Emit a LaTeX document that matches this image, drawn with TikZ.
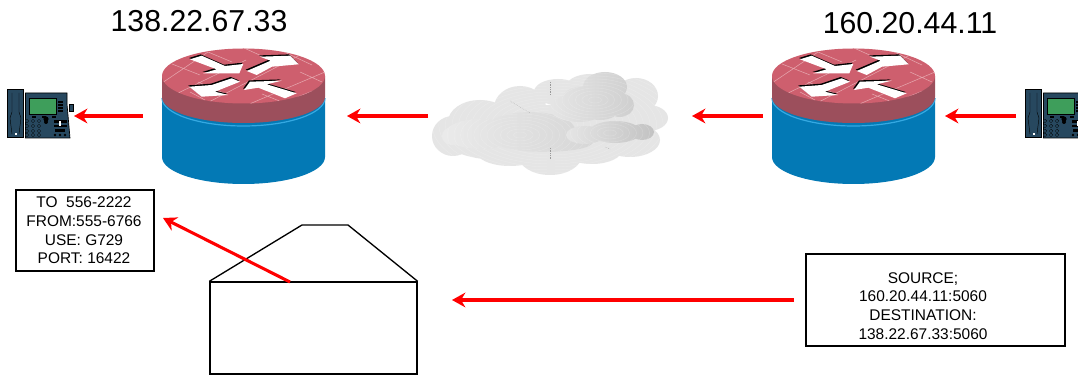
\documentclass[tikz,border=0pt]{standalone}
\usepackage{fontspec}
\setmainfont{Liberation Sans}
\usetikzlibrary{arrows.meta}
\definecolor{rtop}{HTML}{CE5F6E}
\definecolor{rband}{HTML}{9C4F5C}
\definecolor{rblue}{HTML}{0379B5}
\definecolor{rline}{HTML}{35A9E2}
\definecolor{rbrick}{HTML}{E6A6AE}
\definecolor{pnavy}{HTML}{27485F}
\definecolor{pgreen}{HTML}{3E9E5B}
\tikzset{
  x=0.75pt,y=-0.75pt,
  redarrow/.style={draw=red,line width=2.3pt,-{Stealth[length=10pt,width=11pt]}},
  infobox/.style={draw=black,line width=1pt,inner sep=0pt},
  infotext/.style={align=center,inner sep=0pt,font=\fontsize{11.6pt}{14pt}\selectfont},
  iplabel/.style={font=\fontsize{22.7pt}{26pt}\selectfont,inner sep=0pt},
  envline/.style={draw=black,line width=1pt,line join=miter},
  wharrow/.style={fill=white},
  shadowarrow/.style={fill=black},
  phonekey/.style={fill=pnavy,draw=black,line width=0.2pt},
}
\newcommand{\arrowshapes}[1]{%
  \fill[#1] (190,59.3) -- (201.7,55.7) -- (225,66) -- (243.3,64) -- (239.3,73.3) -- (203.3,73.3) -- (216.7,69.3) -- cycle;
  \fill[#1] (246.7,71) -- (270.7,60.7) -- (260,56.7) -- (290,55.7) -- (298.7,64.3) -- (272,66.7) -- (256.7,75) -- cycle;
  \fill[#1] (231.7,78.3) -- (240,81.7) -- (215,91.7) -- (228.3,95) -- (201.7,96.7) -- (189.3,86.7) -- (211.7,85) -- cycle;
  \fill[#1] (244,90) -- (250,81.7) -- (281.7,80.7) -- (266.7,84.3) -- (296.7,93.3) -- (285,98.3) -- (258.3,87.7) -- cycle;
}
\newcommand{\routerbody}{%
  \fill[rblue] (162,98) -- (162,157) arc[start angle=180,end angle=0,x radius=81.5,y radius=27] -- (325,98) -- cycle;
  \draw[rline,line width=0.9pt] (162,98) arc[start angle=180,end angle=0,x radius=81.5,y radius=28];
  \fill[rband] (162,76) -- (162,97) arc[start angle=180,end angle=0,x radius=81.5,y radius=26] -- (325,76) -- cycle;
  \fill[rtop] (243.5,76) ellipse[x radius=81.5,y radius=27.5];
  \begin{scope}
    \clip (243.5,76) ellipse[x radius=81.5,y radius=27.5];
    \draw[rbrick,line width=0.4pt]
      (162,83) -- (208,52) (172,96) -- (246,60) (205,104) -- (300,55) (240,108) -- (325,72) (270,108) -- (330,84)
      (172,64) -- (200,75) (208,52) -- (232,62) (244,48) -- (275,62) (280,50) -- (312,65)
      (198,82) -- (226,94) (300,72) -- (322,82) (262,94) -- (292,106) (190,92) -- (205,100);
  \end{scope}
  \begin{scope}[shift={(-1,-1.3)}]\arrowshapes{shadowarrow}\end{scope}
  \arrowshapes{wharrow}
}
\newcommand{\phoneshape}{%
  \fill[pnavy,draw=black,line width=0.5pt] (7.5,89.5) rectangle (23,137.5);
  \draw[black,line width=0.3pt] (12,93) -- (12,112) -- (10,118) -- (12,134) (19,93) -- (19,112) -- (21,118) -- (19,134);
  \fill[white] (14.5,133) rectangle (16.5,135);
  \fill[pnavy,draw=black,line width=0.5pt] (25.5,93) -- (67,93) -- (67,104) -- (70,138) -- (25.5,138) -- cycle;
  \fill[pnavy,draw=black,line width=0.4pt] (69.5,104) rectangle (73,111);
  \fill[pgreen,draw=black,line width=0.5pt] (29.5,98) rectangle (56,114);
  \foreach \yy in {101,104,107,110} {\fill[black] (58,\yy) rectangle (63,\yy+1.6);}
  \foreach \xx in {32,42,52} {\fill[black] (\xx,116) rectangle (\xx+4,118);}
  \foreach \xx in {27,33,39} \foreach \yy in {121,126,131,135} {\draw[phonekey] (\xx,\yy) circle[radius=1.8];}
  \fill[black] (46,119) circle[radius=2.6];
  \fill[black] (46,122) circle[radius=2];
  \fill[black] (54,120) rectangle (67,123.5);
  \fill[black] (54,125) rectangle (67,127.5);
  \fill[white] (59,121) rectangle (61,126);
  \fill[black] (55,129) rectangle (65,132);
  \foreach \xx in {55,60,65} {\fill[black] (\xx,135) circle[radius=1.4];}
}
\newcommand{\cloudrings}[2]{%
  \foreach \rr in {3,6,...,120} {\draw[white,opacity=0.22,line width=0.3pt] (#1,#2) ellipse[x radius=\rr*2.2,y radius=\rr];}
}
\begin{document}
\begin{tikzpicture}
\useasboundingbox (0,0) rectangle (1078,377);
\fill[white] (0,0) rectangle (1078,377);

% phones
\phoneshape
\begin{scope}
  \clip (0,0) rectangle (1078,377);
  \begin{scope}[shift={(1018,0)}]\phoneshape\end{scope}
\end{scope}

% routers
\routerbody
\begin{scope}[shift={(610,0)}]\routerbody\end{scope}

% cloud
\begin{scope}
  \clip (453,136) ellipse[x radius=21,y radius=20]
        (480,122) ellipse[x radius=32,y radius=22]
        (520,108) ellipse[x radius=26,y radius=22]
        (558,92) ellipse[x radius=24,y radius=13]
        (590,90) ellipse[x radius=26,y radius=16]
        (636,96) ellipse[x radius=22,y radius=18]
        (648,118) ellipse[x radius=20,y radius=13]
        (630,140) ellipse[x radius=30,y radius=17]
        (570,130) ellipse[x radius=80,y radius=26]
        (550,155) ellipse[x radius=32,y radius=20]
        (510,150) ellipse[x radius=35,y radius=16]
        (592,150) ellipse[x radius=30,y radius=14]
        (500,135) ellipse[x radius=60,y radius=25];
  \fill[black!10] (425,60) rectangle (675,180);
  \cloudrings{551}{125}
\end{scope}
\begin{scope}
  \clip (452,136) ellipse[x radius=10,y radius=9]
        (480,134) ellipse[x radius=35,y radius=15]
        (530,130) ellipse[x radius=45,y radius=18]
        (545,142) ellipse[x radius=48,y radius=10];
  \shade[left color=black!8,right color=black!16] (440,110) rectangle (595,155);
  \cloudrings{520}{135}
\end{scope}
\begin{scope}
  \clip (578,108) ellipse[x radius=28,y radius=14]
        (605,87) ellipse[x radius=22,y radius=15]
        (585,98) ellipse[x radius=22,y radius=12]
        (620,105) ellipse[x radius=14,y radius=12]
        (600,108) ellipse[x radius=20,y radius=12];
  \shade[left color=black!10,right color=black!19] (550,70) rectangle (636,122);
  \cloudrings{595}{100}
\end{scope}
\begin{scope}
  \clip (585,135) ellipse[x radius=19,y radius=9]
        (615,132) ellipse[x radius=26,y radius=11]
        (642,132) ellipse[x radius=12,y radius=8];
  \shade[left color=black!10,right color=black!24] (565,120) rectangle (656,146);
  \cloudrings{610}{133}
\end{scope}
\foreach \a/\b/\c/\d in {550.5/82/550.5/95, 510/101/530/113, 550.5/148/550.5/160, 605/147/610/149}
  {\draw[black!40,line width=0.3pt,densely dotted] (\a,\b) -- (\c,\d);}

% labels
\node[iplabel] (ipa) at (199,21) {138.22.67.33};
\node[iplabel] (ipb) at (910,23) {160.20.44.11};

% info boxes
\node[infobox,minimum width=103.5pt,minimum height=60.75pt] (toBox) at (85,230.5) {};
\node[infotext] (toText) at (84,230.5) {TO\ \ 556-2222\\FROM:555-6766\\USE: G729\\PORT: 16422};
\node[infobox,minimum width=194.25pt,minimum height=69pt] (srcBox) at (935.5,300) {};
\node[infotext] (srcText) at (923,306) {SOURCE;\\160.20.44.11:5060\\DESTINATION:\\138.22.67.33:5060};

% envelope
\node[draw=black,line width=1pt,minimum width=155.25pt,minimum height=69pt,inner sep=0pt] (env) at (313.5,328) {};
\coordinate (flapA) at (302,225);
\coordinate (flapB) at (348,225);
\draw[envline] (env.north west) -- (flapA) -- (flapB) -- (env.north east);

% arrow end points
\coordinate (a1s) at (143,116); \coordinate (a1e) at (74,116);
\coordinate (a2s) at (428,116); \coordinate (a2e) at (347,116);
\coordinate (a3s) at (763,116); \coordinate (a3e) at (692,116);
\coordinate (a4s) at (1016,116); \coordinate (a4e) at (945,116);
\coordinate (a5s) at (794,300); \coordinate (a5e) at (452,300);
\coordinate (a6s) at (290,282); \coordinate (a6e) at (163,218);
\draw[redarrow] (a1s) -- (a1e);
\draw[redarrow] (a2s) -- (a2e);
\draw[redarrow] (a3s) -- (a3e);
\draw[redarrow] (a4s) -- (a4e);
\draw[redarrow] (a5s) -- (a5e);
\draw[redarrow] (a6s) -- (a6e);
\end{tikzpicture}
\end{document}
